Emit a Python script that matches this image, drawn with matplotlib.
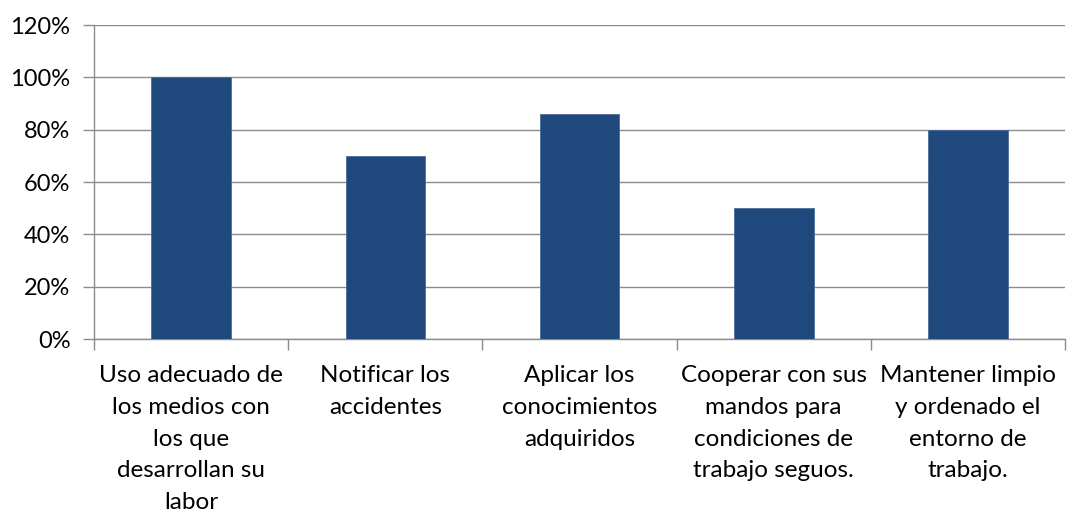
import matplotlib.pyplot as plt
import numpy as np
from matplotlib.ticker import PercentFormatter

categorias = [
    "Uso adecuado de\nlos medios con\nlos que\ndesarrollan su\nlabor",
    "Notificar los\naccidentes",
    "Aplicar los\nconocimientos\nadquiridos",
    "Cooperar con sus\nmandos para\ncondiciones de\ntrabajo seguos.",
    "Mantener limpio\ny ordenado el\nentorno de\ntrabajo.",
]
valores = [100, 70, 86, 50, 80]

plt.rcParams['font.family'] = ['Lato', 'DejaVu Sans']

fig = plt.figure(figsize=(10.73, 5.13), dpi=100)
ax = fig.add_axes([0.0876, 0.339, 0.905, 0.612])

x = np.arange(len(categorias))
ax.bar(x, valores, width=0.41, color='#1F497D', edgecolor='#4a6d9a', linewidth=0.6, zorder=3)

ax.set_xlim(-0.5, len(categorias) - 0.5)
ax.set_ylim(0, 120)
ax.set_yticks(np.arange(0, 121, 20))
ax.yaxis.set_major_formatter(PercentFormatter(decimals=0))
ax.grid(axis='y', color='#8c8c8c', linewidth=1, zorder=0)

ax.set_xticks(x)
ax.set_xticklabels(categorias, fontsize=17.5, linespacing=1.62)
ax.set_xticks(np.arange(-0.5, len(categorias)), minor=True)
ax.tick_params(axis='x', which='major', length=0, pad=19)
ax.tick_params(axis='x', which='minor', length=8, color='#8c8c8c', width=1)
ax.tick_params(axis='y', length=8, color='#8c8c8c', width=1, labelsize=17, pad=9)

for side in ['top', 'right']:
    ax.spines[side].set_visible(False)
for side in ['left', 'bottom']:
    ax.spines[side].set_color('#8c8c8c')
    ax.spines[side].set_linewidth(1)

fig.savefig('out.png', dpi=100)
